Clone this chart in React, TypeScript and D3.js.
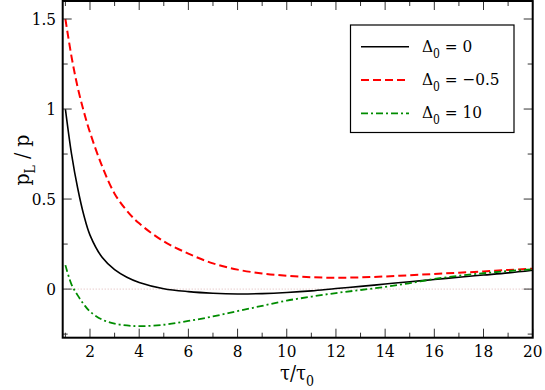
import React from 'react';
import * as d3 from 'd3';

// tau / tau0 sample points
const tauValues = [1, 1.25, 1.5, 1.75, 2, 2.5, 3, 3.5, 4, 5, 6, 7, 8, 9, 10, 11, 12, 13, 14, 15, 16, 17, 18, 19, 20];

// pL / p for each Delta0
const delta0Zero = [1.0, 0.75, 0.56, 0.41, 0.3, 0.175, 0.108, 0.066, 0.037, 0.002, -0.014, -0.023, -0.027, -0.025, -0.019, -0.01, 0.003, 0.015, 0.028, 0.041, 0.053, 0.066, 0.078, 0.09, 0.105];
const delta0Neg = [1.5, 1.29, 1.12, 0.985, 0.87, 0.68, 0.53, 0.435, 0.365, 0.265, 0.197, 0.143, 0.108, 0.087, 0.074, 0.066, 0.063, 0.065, 0.07, 0.077, 0.084, 0.091, 0.098, 0.106, 0.113];
const delta0Ten = [0.133, 0.025, -0.035, -0.085, -0.125, -0.17, -0.192, -0.202, -0.206, -0.198, -0.177, -0.152, -0.122, -0.093, -0.064, -0.042, -0.022, -0.005, 0.012, 0.033, 0.056, 0.074, 0.088, 0.1, 0.11];

const xMajor = [2, 4, 6, 8, 10, 12, 14, 16, 18, 20];
const xMinor = [1, 3, 5, 7, 9, 11, 13, 15, 17, 19];
const yMajor = [0, 0.5, 1, 1.5];
const yMinor = [-0.25, 0.25, 0.75, 1.25];

const legendLabels = ['0', '\u22120.5', '10'];

const W = 545;
const H = 390;
const left = 62.7;
const right = 532.7;
const top = 1;
const bottom = 337.7;

const font = '"DejaVu Serif Condensed", "DejaVu Serif", serif';

export default function App() {
  const x = d3.scaleLinear().domain([0.89, 20]).range([left, right]);
  const y = d3.scaleLinear().domain([-0.27, 1.6]).range([bottom, top]);

  const line = (vals: number[]) =>
    d3.line<number>()
      .x((_, i) => x(tauValues[i]))
      .y((d) => y(d))
      .curve(d3.curveCatmullRom.alpha(0.5))(vals) || '';

  const series = [
    { vals: delta0Zero, color: '#000000', dash: undefined, width: 1.6 },
    { vals: delta0Neg, color: '#ff0000', dash: '8,4', width: 2 },
    { vals: delta0Ten, color: '#008c00', dash: '7,3,2,3', width: 1.8 },
  ];

  const major = 9;
  const minor = 5;

  return (
    <svg width={W} height={H} style={{ position: 'absolute', left: 0, top: 0, background: '#fff' }}>
      <defs>
        <clipPath id="plot">
          <rect x={left} y={top} width={right - left} height={bottom - top} />
        </clipPath>
      </defs>

      {/* zero reference line */}
      <line x1={left} x2={right} y1={y(0)} y2={y(0)} stroke="#dbb4b4" strokeWidth={1} strokeDasharray="1,2" />

      <g clipPath="url(#plot)">
        {series.map((s, i) => (
          <path key={i} d={line(s.vals)} fill="none" stroke={s.color} strokeWidth={s.width}
            strokeDasharray={s.dash} />
        ))}
      </g>

      {/* ticks on all four sides, pointing inward */}
      <g stroke="#333" strokeWidth={1}>
        {xMajor.map((t) => (
          <g key={'xM' + t}>
            <line x1={x(t)} x2={x(t)} y1={bottom} y2={bottom - major} />
            <line x1={x(t)} x2={x(t)} y1={top} y2={top + major} />
          </g>
        ))}
        {xMinor.map((t) => (
          <g key={'xm' + t}>
            <line x1={x(t)} x2={x(t)} y1={bottom} y2={bottom - minor} />
            <line x1={x(t)} x2={x(t)} y1={top} y2={top + minor} />
          </g>
        ))}
        {yMajor.map((t) => (
          <g key={'yM' + t}>
            <line x1={left} x2={left + major} y1={y(t)} y2={y(t)} />
            <line x1={right} x2={right - major} y1={y(t)} y2={y(t)} />
          </g>
        ))}
        {yMinor.map((t) => (
          <g key={'ym' + t}>
            <line x1={left} x2={left + minor} y1={y(t)} y2={y(t)} />
            <line x1={right} x2={right - minor} y1={y(t)} y2={y(t)} />
          </g>
        ))}
      </g>

      <rect x={left} y={top} width={right - left} height={bottom - top} fill="none" stroke="#000" strokeWidth={2} />

      {/* tick labels */}
      <g fontSize={17} fill="#000" style={{ fontFamily: font }}>
        {xMajor.map((t) => (
          <text key={'xl' + t} x={x(t)} y={357} textAnchor="middle">{t}</text>
        ))}
        {yMajor.map((t) => (
          <text key={'yl' + t} x={56} y={y(t) + 6} textAnchor="end">{t}</text>
        ))}
      </g>

      {/* axis titles */}
      <text x={297} y={380} fontSize={20} textAnchor="middle" style={{ fontFamily: font }}>
        τ/τ<tspan fontSize={14} dy={6}>0</tspan>
      </text>
      <text transform="translate(29,160) rotate(-90)" fontSize={21} textAnchor="middle" style={{ fontFamily: font }}>
        p<tspan fontSize={14} dy={6}>L</tspan><tspan dy={-6}> / p</tspan>
      </text>

      {/* legend */}
      <rect x={350.5} y={25} width={163.5} height={107.5} fill="#fff" stroke="#000" strokeWidth={1.2} />
      {series.map((s, i) => {
        const ly = 46.7 + i * 33.3;
        return (
          <g key={'lg' + i}>
            <line x1={361} x2={409} y1={ly} y2={ly} stroke={s.color} strokeWidth={s.width} strokeDasharray={s.dash} />
            <text x={422} y={ly + 5} fontSize={17} style={{ fontFamily: font }}>
              Δ<tspan fontSize={12} dy={6}>0</tspan><tspan dy={-6}> = {legendLabels[i]}</tspan>
            </text>
          </g>
        );
      })}
    </svg>
  );
}
